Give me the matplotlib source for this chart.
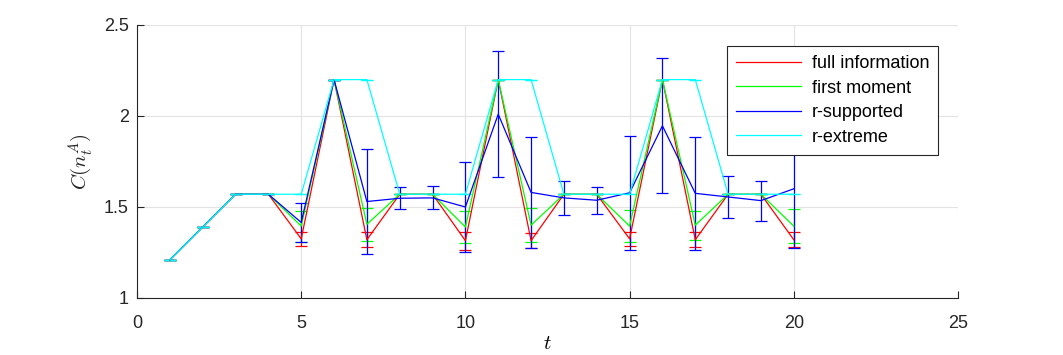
import matplotlib
matplotlib.use("Agg")
import matplotlib.pyplot as plt
from matplotlib.lines import Line2D

plt.rcParams['font.family'] = ['Liberation Sans', 'DejaVu Sans']
plt.rcParams['mathtext.fontset'] = 'cm'

# time steps
t = list(range(1, 21))

# full information
full = [1.21, 1.39, 1.57, 1.57, 1.325, 2.20, 1.32, 1.57, 1.57, 1.315,
        2.20, 1.315, 1.57, 1.57, 1.325, 2.20, 1.32, 1.57, 1.57, 1.32]
full_err = [0, 0, 0, 0, 0.04, 0, 0.04, 0, 0, 0.05,
            0, 0.04, 0, 0, 0.04, 0, 0.04, 0, 0, 0.04]

# first moment
first = [1.21, 1.39, 1.57, 1.57, 1.395, 2.20, 1.405, 1.57, 1.57, 1.39,
         2.20, 1.40, 1.57, 1.57, 1.395, 2.20, 1.40, 1.57, 1.57, 1.395]
first_err = [0, 0, 0, 0, 0.085, 0, 0.09, 0, 0, 0.09,
             0, 0.095, 0, 0, 0.09, 0, 0.08, 0, 0, 0.095]

# r-supported
rsup = [1.21, 1.39, 1.57, 1.57, 1.415, 2.20, 1.53, 1.548, 1.55, 1.50,
        2.01, 1.58, 1.55, 1.537, 1.578, 1.946, 1.575, 1.555, 1.535, 1.60]
rsup_err = [0, 0, 0, 0, 0.105, 0, 0.29, 0.06, 0.063, 0.245,
            0.345, 0.305, 0.095, 0.075, 0.314, 0.371, 0.31, 0.115, 0.11, 0.325]

# r-extreme
rext = [1.21, 1.39, 1.57, 1.57, 1.57, 2.20, 2.20, 1.57, 1.57, 1.57,
        2.20, 2.20, 1.57, 1.57, 1.57, 2.20, 2.20, 1.57, 1.57, 1.57]
rext_err = [0] * 20

labels = ['full information', 'first moment', 'r-supported', 'r-extreme']
colors = ['#ff0000', '#00ff00', '#0000ff', '#00ffff']

fig = plt.figure(figsize=(10.63, 3.55), dpi=100)
ax = fig.add_axes([0.1289, 0.1606, 0.7723, 0.769])

series = [(full, full_err), (first, first_err), (rsup, rsup_err), (rext, rext_err)]
for (y, e), c in zip(series, colors):
    ax.errorbar(t, y, yerr=e, color=c, lw=0.9, elinewidth=0.9,
                capsize=4.5, capthick=0.9)

ax.set_xlim(0, 25)
ax.set_ylim(1, 2.5)
ax.set_xticks([0, 5, 10, 15, 20, 25])
ax.set_yticks([1, 1.5, 2, 2.5])
ax.set_yticklabels(['1', '1.5', '2', '2.5'])
ax.grid(True, color='#e3e3e3', lw=0.8)
ax.set_axisbelow(True)

for s in ['top', 'right']:
    ax.spines[s].set_visible(False)
for s in ['left', 'bottom']:
    ax.spines[s].set_color('#262626')
    ax.spines[s].set_linewidth(0.8)
ax.tick_params(direction='in', length=5, width=0.8, color='#262626',
               labelcolor='#262626', labelsize=13, pad=6)
ax.tick_params(axis='x', pad=12)

ax.set_xlabel('$t$', fontsize=15, labelpad=2)
ax.set_ylabel('$C(n_t^A)$', fontsize=15, labelpad=6, color='#262626')

handles = [Line2D([], [], color=c, lw=0.9) for c in colors]
leg = ax.legend(handles, labels, loc='upper left', bbox_to_anchor=(0.7186, 0.923),
                borderaxespad=0, fancybox=False, framealpha=1, edgecolor='#262626',
                fontsize=13, handlelength=3.6, handletextpad=0.6,
                labelspacing=0.42, borderpad=0.5)
leg.get_frame().set_linewidth(0.8)

fig.savefig('out.png', dpi=100)
